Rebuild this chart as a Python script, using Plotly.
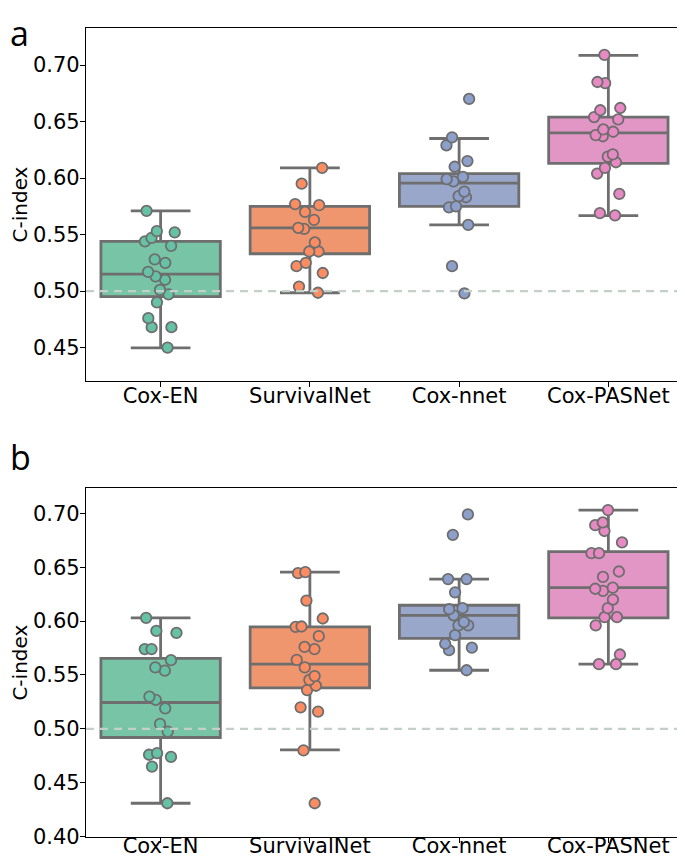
import plotly.graph_objects as go
from plotly.subplots import make_subplots

methods = ['Cox-EN', 'SurvivalNet', 'Cox-nnet', 'Cox-PASNet']

# panel a: C-index per run
a_points = {
    'Cox-EN': [0.571, 0.552, 0.553, 0.547, 0.544, 0.540, 0.528, 0.525, 0.517, 0.513,
               0.510, 0.501, 0.497, 0.490, 0.476, 0.468, 0.468, 0.450],
    'SurvivalNet': [0.609, 0.595, 0.576, 0.577, 0.570, 0.563, 0.555, 0.556, 0.543, 0.535,
                    0.535, 0.525, 0.522, 0.516, 0.504, 0.4985],
    'Cox-nnet': [0.670, 0.636, 0.629, 0.615, 0.610, 0.601, 0.599, 0.597, 0.588, 0.584,
                 0.583, 0.575, 0.574, 0.5585, 0.522, 0.498],
    'Cox-PASNet': [0.709, 0.684, 0.685, 0.662, 0.660, 0.654, 0.652, 0.643, 0.641, 0.637,
                   0.638, 0.619, 0.621, 0.614, 0.609, 0.604, 0.586, 0.569, 0.567],
}
# lower whisker, q1, median, q3, upper whisker
a_stats = {
    'Cox-EN': [0.4497, 0.495, 0.515, 0.544, 0.571],
    'SurvivalNet': [0.4985, 0.533, 0.556, 0.575, 0.609],
    'Cox-nnet': [0.5585, 0.575, 0.5955, 0.604, 0.635],
    'Cox-PASNet': [0.5668, 0.613, 0.640, 0.654, 0.7086],
}

# panel b
b_points = {
    'Cox-EN': [0.603, 0.589, 0.591, 0.574, 0.574, 0.5637, 0.557, 0.554, 0.530, 0.527,
               0.519, 0.5046, 0.4975, 0.4775, 0.476, 0.474, 0.465, 0.431],
    'SurvivalNet': [0.6445, 0.6454, 0.619, 0.6024, 0.595, 0.5947, 0.586, 0.576, 0.574, 0.564,
                    0.557, 0.549, 0.5455, 0.540, 0.536, 0.520, 0.516, 0.480, 0.431],
    'Cox-nnet': [0.699, 0.680, 0.639, 0.639, 0.6267, 0.612, 0.611, 0.6054, 0.599, 0.596,
                 0.596, 0.587, 0.579, 0.5753, 0.573, 0.5544],
    'Cox-PASNet': [0.703, 0.6915, 0.689, 0.6836, 0.673, 0.663, 0.663, 0.646, 0.641, 0.631,
                   0.630, 0.628, 0.620, 0.612, 0.6036, 0.6036, 0.596, 0.569, 0.560, 0.560],
}
b_stats = {
    'Cox-EN': [0.431, 0.492, 0.5245, 0.5655, 0.603],
    'SurvivalNet': [0.4806, 0.538, 0.560, 0.5947, 0.6454],
    'Cox-nnet': [0.5544, 0.584, 0.6054, 0.6147, 0.639],
    'Cox-PASNet': [0.560, 0.603, 0.631, 0.6645, 0.703],
}

point_colors = ['#66c2a5', '#fc8d62', '#8da0cb', '#e78ac3']
box_colors = ['#78c4a7', '#f0966f', '#98a7ca', '#e196c6']
gray = '#6e6e6e'

# page body has an 8px margin, so the figure is 8px smaller each way
W, H = 677, 852

fig = make_subplots(rows=2, cols=1)

for row, pts, stats in [(1, a_points, a_stats), (2, b_points, b_stats)]:
    for i, m in enumerate(methods):
        lo, q1, med, q3, hi = stats[m]
        fig.add_trace(go.Box(
            x=[m], q1=[q1], median=[med], q3=[q3], lowerfence=[lo], upperfence=[hi],
            width=0.8, whiskerwidth=0.5, fillcolor=box_colors[i],
            line=dict(color=gray, width=2.8), boxpoints=False, showlegend=False,
        ), row=row, col=1)
        fig.add_trace(go.Box(
            x=[m] * len(pts[m]), y=pts[m], width=0.8,
            boxpoints='all', jitter=0.3, pointpos=0,
            fillcolor='rgba(0,0,0,0)', line=dict(color='rgba(0,0,0,0)', width=0),
            marker=dict(color=point_colors[i], size=10.5, line=dict(color=gray, width=1.8)),
            showlegend=False,
        ), row=row, col=1)

axis_font = dict(family='DejaVu Sans', size=21, color='black')
for ax, standoff in [('xaxis', -9), ('xaxis2', -15)]:
    fig.layout[ax].update(domain=[78 / W, 672 / W], range=[-0.5, 3.48], showline=True, mirror=True,
                          linecolor='black', linewidth=1.3, ticks='outside', ticklen=5,
                          tickcolor='black', tickfont=axis_font, showgrid=False, zeroline=False,
                          automargin=False, categoryorder='array', categoryarray=methods,
                          ticklabelstandoff=standoff)

fig.layout.yaxis.update(domain=[1 - 373 / H, 1 - 20 / H], range=[0.4204, 0.7328])
fig.layout.yaxis2.update(domain=[1 - 829 / H, 1 - 480.3 / H], range=[0.3997, 0.7232])
for ax in ['yaxis', 'yaxis2']:
    fig.layout[ax].update(showline=True, mirror=True, linecolor='black', linewidth=1.3,
                          ticks='outside', ticklen=5, tickcolor='black', tickfont=axis_font,
                          tickformat='.2f', dtick=0.05, showgrid=False, zeroline=False,
                          automargin=False, ticklabelstandoff=-4,
                          title=dict(text='C-index', standoff=4,
                                     font=dict(family='DejaVu Sans', size=20, color='black')))

# reference line at 0.5
for xr, yr in [('x domain', 'y'), ('x2 domain', 'y2')]:
    fig.add_shape(type='line', xref=xr, yref=yr, x0=0, x1=1, y0=0.5, y1=0.5, layer='above',
                  line=dict(color='#c3d0c8', width=2.2, dash='8px,6px'))

fig.add_annotation(text='a', x=0, y=1, xref='paper', yref='paper',
                   xanchor='left', yanchor='top', showarrow=False,
                   font=dict(family='Open Sans', size=34, color='black'))
fig.add_annotation(text='b', x=0, y=1 - 474 / H, xref='paper', yref='paper',
                   xanchor='left', yanchor='bottom', showarrow=False,
                   font=dict(family='Open Sans', size=34, color='black'))

fig.update_layout(width=W, height=H, margin=dict(l=0, r=0, t=0, b=0),
                  plot_bgcolor='white', paper_bgcolor='white', boxmode='overlay',
                  font=dict(family='DejaVu Sans'))

fig.write_html("out.html")
